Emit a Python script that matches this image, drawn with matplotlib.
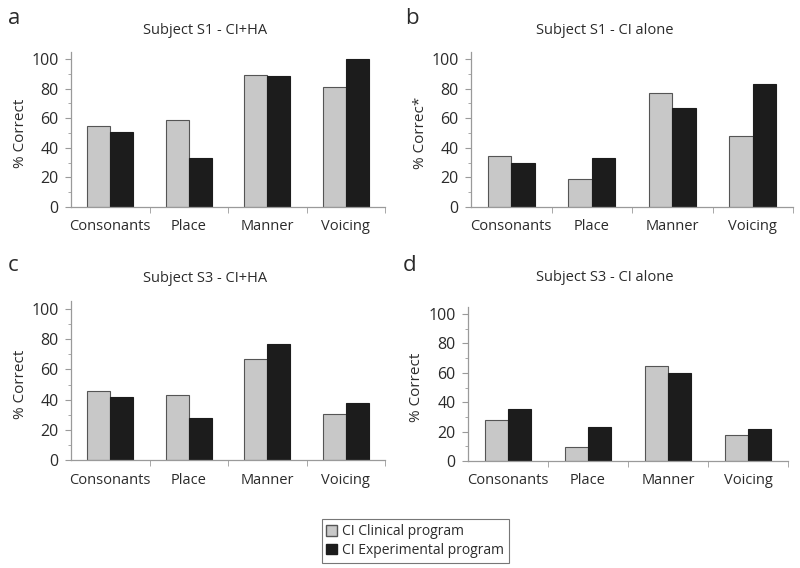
import matplotlib
matplotlib.use("Agg")
import matplotlib.pyplot as plt
import numpy as np
from matplotlib.patches import Patch

plt.rcParams['font.family'] = ['Open Sans', 'DejaVu Sans']
plt.rcParams['text.color'] = '#2b2b2b'

categories = ['Consonants', 'Place', 'Manner', 'Voicing']
titles = ['Subject S1 - CI+HA', 'Subject S1 - CI alone', 'Subject S3 - CI+HA', 'Subject S3 - CI alone']
letters = ['a', 'b', 'c', 'd']
ylabels = ['% Correct', '% Correc*', '% Correct', '% Correct']

clinical_a = [55, 58.5, 89.5, 81]
experimental_a = [50.5, 33, 88.5, 100]
clinical_b = [34.5, 19, 77, 48]
experimental_b = [29.5, 33, 67, 83]
clinical_c = [45.5, 43, 67, 30.5]
experimental_c = [42, 28, 76.5, 38]
clinical_d = [28, 9.5, 64.5, 18]
experimental_d = [35.5, 23, 60, 22]

clinical = [clinical_a, clinical_b, clinical_c, clinical_d]
experimental = [experimental_a, experimental_b, experimental_c, experimental_d]

W, H = 800, 568
fig = plt.figure(figsize=(8, 5.68), dpi=100)

# axes boxes in pixels: left, right, bottom (y=0), top (y=100)
boxes = [(71, 385, 207, 59), (471, 793, 207, 59), (71, 385, 460, 309), (468, 788, 461, 314)]
title_pos = [(205, 30), (605, 30), (205, 278), (605, 277)]
letter_pos = [(8, 18), (405, 18), (8, 266), (403, 266)]
ylab_x = [20, 420, 20, 417]

gray = '#c8c8c8'
dark = '#1c1c1c'
edge = '#555555'
axcol = '#9a9a9a'

x = np.arange(len(categories))
bw = 0.29
for i in range(4):
    l, r, b0, t100 = boxes[i]
    ppu = (b0 - t100) / 100.0
    top = 105
    ax = fig.add_axes([l / W, 1 - b0 / H, (r - l) / W, top * ppu / H])
    ax.bar(x - bw / 2, clinical[i], bw, color=gray, edgecolor=edge, linewidth=0.8)
    ax.bar(x + bw / 2, experimental[i], bw, color=dark, edgecolor=dark, linewidth=0.8)
    ax.set_xlim(-0.5, 3.5)
    ax.set_ylim(0, top)
    ax.set_yticks([0, 20, 40, 60, 80, 100])
    ax.set_yticks(np.arange(0, 101, 10), minor=True)
    ax.set_xticks(x)
    ax.set_xticklabels(categories)
    ax.set_xticks([0.5, 1.5, 2.5, 3.5], minor=True)
    ax.tick_params(axis='x', which='major', length=0, pad=9, labelsize=10.5, labelcolor='#2b2b2b')
    ax.tick_params(axis='x', which='minor', length=4, color=axcol, direction='out')
    ax.tick_params(axis='y', which='major', length=4, color=axcol, pad=5, labelsize=11.5, labelcolor='#2b2b2b')
    ax.tick_params(axis='y', which='minor', length=2.5, color=axcol)
    for s in ['top', 'right']:
        ax.spines[s].set_visible(False)
    for s in ['left', 'bottom']:
        ax.spines[s].set_color(axcol)
        ax.spines[s].set_linewidth(0.9)
    tx, ty = title_pos[i]
    fig.text(tx / W, 1 - ty / H, titles[i], ha='center', va='center', fontsize=10.5)
    lx, ly = letter_pos[i]
    fig.text(lx / W, 1 - ly / H, letters[i], ha='left', va='center', fontsize=16)
    mid = (b0 + t100) / 2
    fig.text(ylab_x[i] / W, 1 - mid / H, ylabels[i], rotation=90, ha='center', va='center', fontsize=11)

handles = [Patch(facecolor=gray, edgecolor=edge, label='CI Clinical program'),
           Patch(facecolor=dark, edgecolor=dark, label='CI Experimental program')]
leg = fig.legend(handles=handles, loc='center', bbox_to_anchor=(415 / W, 1 - 541 / H),
                 fontsize=10, frameon=True, fancybox=False, handlelength=0.8, handleheight=0.8,
                 handletextpad=0.3, borderpad=0.35, labelspacing=0.25, borderaxespad=0)
leg.get_frame().set_edgecolor('#555555')
leg.get_frame().set_linewidth(0.8)

fig.savefig('out.png', dpi=100)
